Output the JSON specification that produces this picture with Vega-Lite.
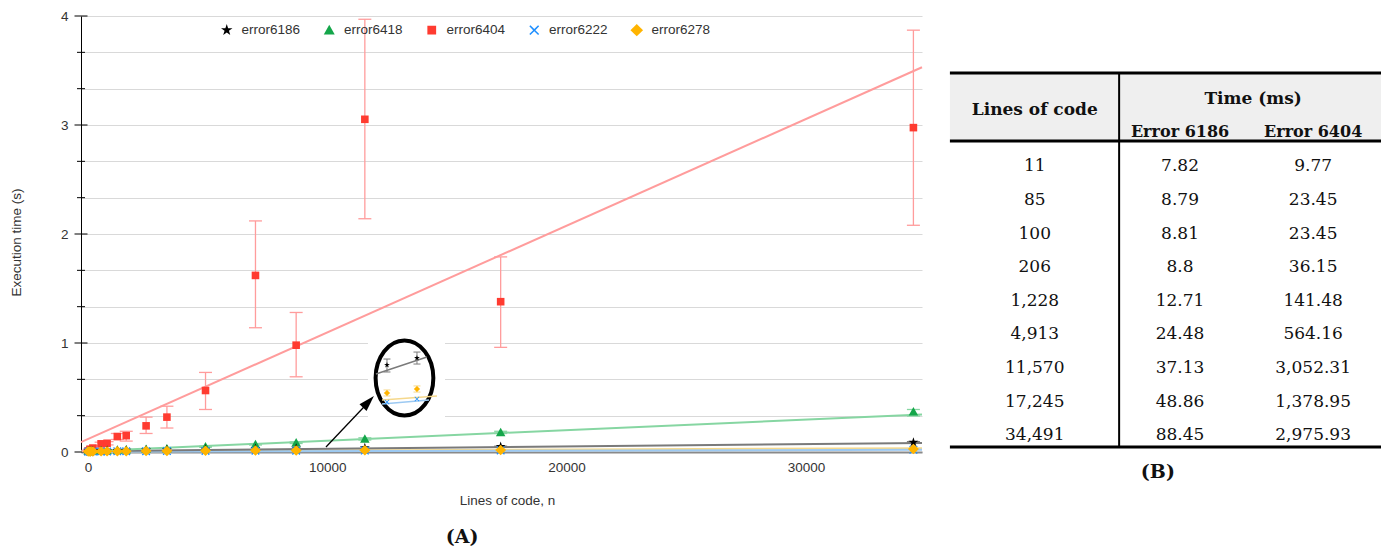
{
  "$schema": "https://vega.github.io/schema/vega-lite/v6.json",
  "padding": {"left": 9, "top": 9, "right": 0, "bottom": 0},
  "spacing": 20,
  "config": {"view": {"stroke": null}, "font": "Liberation Sans"},
  "datasets": {
    "main": [
      {"s": "error6404", "n": 11, "t": 0.0098, "lo": 0.004, "hi": 0.016},
      {"s": "error6404", "n": 85, "t": 0.0235, "lo": 0.015, "hi": 0.032},
      {"s": "error6404", "n": 100, "t": 0.0235, "lo": 0.015, "hi": 0.032},
      {"s": "error6404", "n": 206, "t": 0.0362, "lo": 0.026, "hi": 0.047},
      {"s": "error6404", "n": 550, "t": 0.075, "lo": 0.06, "hi": 0.09},
      {"s": "error6404", "n": 800, "t": 0.08, "lo": 0.065, "hi": 0.095},
      {"s": "error6404", "n": 1228, "t": 0.1415, "lo": 0.115, "hi": 0.17},
      {"s": "error6404", "n": 1600, "t": 0.15, "lo": 0.1, "hi": 0.19},
      {"s": "error6404", "n": 2430, "t": 0.24, "lo": 0.17, "hi": 0.32},
      {"s": "error6404", "n": 3300, "t": 0.32, "lo": 0.22, "hi": 0.42},
      {"s": "error6404", "n": 4913, "t": 0.5642, "lo": 0.39, "hi": 0.73},
      {"s": "error6404", "n": 7000, "t": 1.62, "lo": 1.14, "hi": 2.12},
      {"s": "error6404", "n": 8700, "t": 0.98, "lo": 0.69, "hi": 1.28},
      {"s": "error6404", "n": 11570, "t": 3.0523, "lo": 2.14, "hi": 3.97},
      {"s": "error6404", "n": 17245, "t": 1.379, "lo": 0.96, "hi": 1.79},
      {"s": "error6404", "n": 34491, "t": 2.9759, "lo": 2.08, "hi": 3.87},
      {"s": "error6418", "n": 11, "t": 0.008},
      {"s": "error6418", "n": 85, "t": 0.009},
      {"s": "error6418", "n": 100, "t": 0.009},
      {"s": "error6418", "n": 206, "t": 0.01},
      {"s": "error6418", "n": 550, "t": 0.012},
      {"s": "error6418", "n": 800, "t": 0.014},
      {"s": "error6418", "n": 1228, "t": 0.018},
      {"s": "error6418", "n": 1600, "t": 0.02},
      {"s": "error6418", "n": 2430, "t": 0.025},
      {"s": "error6418", "n": 3300, "t": 0.03},
      {"s": "error6418", "n": 4913, "t": 0.048, "lo": 0.044, "hi": 0.052},
      {"s": "error6418", "n": 7000, "t": 0.07, "lo": 0.064, "hi": 0.076},
      {"s": "error6418", "n": 8700, "t": 0.085, "lo": 0.078, "hi": 0.092},
      {"s": "error6418", "n": 11570, "t": 0.12, "lo": 0.11, "hi": 0.13},
      {"s": "error6418", "n": 17245, "t": 0.18, "lo": 0.17, "hi": 0.19},
      {"s": "error6418", "n": 34491, "t": 0.37, "lo": 0.33, "hi": 0.39},
      {"s": "error6186", "n": 11, "t": 0.0078},
      {"s": "error6186", "n": 85, "t": 0.0088},
      {"s": "error6186", "n": 100, "t": 0.0088},
      {"s": "error6186", "n": 206, "t": 0.0088},
      {"s": "error6186", "n": 550, "t": 0.01},
      {"s": "error6186", "n": 800, "t": 0.011},
      {"s": "error6186", "n": 1228, "t": 0.0127},
      {"s": "error6186", "n": 1600, "t": 0.014},
      {"s": "error6186", "n": 2430, "t": 0.017},
      {"s": "error6186", "n": 3300, "t": 0.02},
      {"s": "error6186", "n": 4913, "t": 0.0245},
      {"s": "error6186", "n": 7000, "t": 0.029},
      {"s": "error6186", "n": 8700, "t": 0.033},
      {"s": "error6186", "n": 11570, "t": 0.0371},
      {"s": "error6186", "n": 17245, "t": 0.0489, "lo": 0.045, "hi": 0.053},
      {"s": "error6186", "n": 34491, "t": 0.0885, "lo": 0.082, "hi": 0.095},
      {"s": "error6222", "n": 11, "t": 0.003},
      {"s": "error6222", "n": 85, "t": 0.0035},
      {"s": "error6222", "n": 100, "t": 0.0035},
      {"s": "error6222", "n": 206, "t": 0.004},
      {"s": "error6222", "n": 550, "t": 0.0045},
      {"s": "error6222", "n": 800, "t": 0.005},
      {"s": "error6222", "n": 1228, "t": 0.006},
      {"s": "error6222", "n": 1600, "t": 0.0065},
      {"s": "error6222", "n": 2430, "t": 0.0075},
      {"s": "error6222", "n": 3300, "t": 0.0085},
      {"s": "error6222", "n": 4913, "t": 0.01},
      {"s": "error6222", "n": 7000, "t": 0.011},
      {"s": "error6222", "n": 8700, "t": 0.012},
      {"s": "error6222", "n": 11570, "t": 0.013},
      {"s": "error6222", "n": 17245, "t": 0.015},
      {"s": "error6222", "n": 34491, "t": 0.02},
      {"s": "error6278", "n": 11, "t": 0.004},
      {"s": "error6278", "n": 85, "t": 0.0045},
      {"s": "error6278", "n": 100, "t": 0.0045},
      {"s": "error6278", "n": 206, "t": 0.005},
      {"s": "error6278", "n": 550, "t": 0.0055},
      {"s": "error6278", "n": 800, "t": 0.006},
      {"s": "error6278", "n": 1228, "t": 0.007},
      {"s": "error6278", "n": 1600, "t": 0.0075},
      {"s": "error6278", "n": 2430, "t": 0.0085},
      {"s": "error6278", "n": 3300, "t": 0.0095},
      {"s": "error6278", "n": 4913, "t": 0.0115},
      {"s": "error6278", "n": 7000, "t": 0.013},
      {"s": "error6278", "n": 8700, "t": 0.014},
      {"s": "error6278", "n": 11570, "t": 0.016},
      {"s": "error6278", "n": 17245, "t": 0.019},
      {"s": "error6278", "n": 34491, "t": 0.028}
    ],
    "trend": [
      {"s": "error6278", "n": -290, "t": 0.004},
      {"s": "error6278", "n": 34850, "t": 0.035},
      {"s": "error6222", "n": -290, "t": 0.003},
      {"s": "error6222", "n": 34850, "t": 0.02},
      {"s": "error6186", "n": -290, "t": 0.006},
      {"s": "error6186", "n": 34850, "t": 0.083},
      {"s": "error6418", "n": -290, "t": 0.004},
      {"s": "error6418", "n": 34850, "t": 0.345},
      {"s": "error6404", "n": -290, "t": 0.09},
      {"s": "error6404", "n": 34850, "t": 3.53}
    ],
    "yticks": [
      {"v": 0, "major": true}, {"v": 0.33333, "major": false}, {"v": 0.66667, "major": false},
      {"v": 1, "major": true}, {"v": 1.33333, "major": false}, {"v": 1.66667, "major": false},
      {"v": 2, "major": true}, {"v": 2.33333, "major": false}, {"v": 2.66667, "major": false},
      {"v": 3, "major": true}, {"v": 3.33333, "major": false}, {"v": 3.66667, "major": false},
      {"v": 4, "major": true}
    ],
    "insetLines": [
      {"s": "error6186", "n": 12035, "t": 0.716},
      {"s": "error6186", "n": 14166, "t": 0.872},
      {"s": "error6278", "n": 12286, "t": 0.477},
      {"s": "error6278", "n": 14584, "t": 0.514},
      {"s": "error6222", "n": 12286, "t": 0.44},
      {"s": "error6222", "n": 14250, "t": 0.477}
    ],
    "insetPts": [
      {"s": "error6222", "n": 12495, "t": 0.459},
      {"s": "error6222", "n": 13748, "t": 0.486},
      {"s": "error6186", "n": 12495, "t": 0.798, "lo": 0.734, "hi": 0.853},
      {"s": "error6186", "n": 13748, "t": 0.862, "lo": 0.807, "hi": 0.917},
      {"s": "error6278", "n": 12495, "t": 0.541, "lo": 0.514, "hi": 0.569},
      {"s": "error6278", "n": 13748, "t": 0.578, "lo": 0.55, "hi": 0.606}
    ],
    "table": [
      {"row": 0, "loc": "11", "a": "7.82", "b": "9.77"},
      {"row": 1, "loc": "85", "a": "8.79", "b": "23.45"},
      {"row": 2, "loc": "100", "a": "8.81", "b": "23.45"},
      {"row": 3, "loc": "206", "a": "8.8", "b": "36.15"},
      {"row": 4, "loc": "1,228", "a": "12.71", "b": "141.48"},
      {"row": 5, "loc": "4,913", "a": "24.48", "b": "564.16"},
      {"row": 6, "loc": "11,570", "a": "37.13", "b": "3,052.31"},
      {"row": 7, "loc": "17,245", "a": "48.86", "b": "1,378.95"},
      {"row": 8, "loc": "34,491", "a": "88.45", "b": "2,975.93"}
    ]
  },
  "hconcat": [
    {
      "width": 841,
      "height": 436,
      "resolve": {"axis": {"x": "independent", "y": "independent"}, "legend": {"color": "independent", "shape": "independent", "stroke": "independent"}},
      "layer": [
        {
          "data": {"name": "trend"},
          "mark": {"type": "line", "strokeWidth": 2},
          "encoding": {
            "x": {"field": "n", "type": "quantitative",
              "scale": {"domain": [-290, 34850], "nice": false, "zero": false},
              "axis": {"values": [0, 10000, 20000, 30000], "format": "d", "ticks": false, "grid": false,
                "domainColor": "#8a8a8a", "domainWidth": 2, "labelFontSize": 13.5, "labelColor": "#333",
                "labelPadding": 8, "labelFlush": false, "title": "Lines of code, n", "titleFontSize": 13.5,
                "titleFontWeight": "normal", "titleColor": "#333", "titleX": 426, "titleY": 48, "titleBaseline": "middle"}},
            "y": {"field": "t", "type": "quantitative",
              "scale": {"domain": [0, 4], "nice": false, "zero": false},
              "axis": {"orient": "left",
                "values": [0, 0.33333, 0.66667, 1, 1.33333, 1.66667, 2, 2.33333, 2.66667, 3, 3.33333, 3.66667, 4],
                "labelExpr": "abs(datum.value - round(datum.value)) < 0.01 ? format(datum.value, 'd') : ''",
                "ticks": false, "domainColor": "#000", "domainWidth": 1, "grid": true, "gridColor": "#d9d9d9",
                "gridWidth": 1, "labelFontSize": 13.5, "labelColor": "#333", "labelPadding": 13, "labelFlush": false,
                "title": "Execution time (s)", "titleFontSize": 13.5, "titleFontWeight": "normal", "titleColor": "#333",
                "titleX": -65, "titleY": 226, "titleBaseline": "middle", "titleAlign": "center", "titleAngle": -90}},
            "stroke": {"field": "s", "type": "nominal",
              "scale": {"domain": ["error6186", "error6418", "error6404", "error6222", "error6278"],
                "range": ["#7a7a7a", "#86d6a2", "#ff9c9c", "#9cc9f2", "#f5d88c"]},
              "legend": null}
          }
        },
        {
          "data": {"name": "yticks"},
          "transform": [{"filter": "datum.major"}],
          "mark": {"type": "tick", "orient": "horizontal", "size": 13, "thickness": 1, "color": "#000", "opacity": 1},
          "encoding": {
            "x": {"datum": -290, "type": "quantitative", "axis": null},
            "y": {"field": "v", "type": "quantitative", "axis": null}
          }
        },
        {
          "data": {"name": "yticks"},
          "transform": [{"filter": "!datum.major"}],
          "mark": {"type": "tick", "orient": "horizontal", "size": 8, "thickness": 1, "color": "#000", "opacity": 1},
          "encoding": {
            "x": {"datum": -290, "type": "quantitative", "axis": null},
            "y": {"field": "v", "type": "quantitative", "axis": null}
          }
        },
        {
          "data": {"name": "main"},
          "transform": [{"filter": "isValid(datum.lo)"}],
          "mark": {"type": "rule", "strokeWidth": 1.3},
          "encoding": {
            "x": {"field": "n", "type": "quantitative", "axis": null},
            "y": {"field": "lo", "type": "quantitative", "axis": null},
            "y2": {"field": "hi"},
            "stroke": {"field": "s", "type": "nominal", "legend": null}
          }
        },
        {
          "data": {"name": "main"},
          "transform": [{"filter": "isValid(datum.lo)"}],
          "mark": {"type": "point", "shape": "stroke", "size": 169, "strokeWidth": 1.3, "opacity": 1, "filled": false},
          "encoding": {
            "x": {"field": "n", "type": "quantitative", "axis": null},
            "y": {"field": "lo", "type": "quantitative", "axis": null},
            "stroke": {"field": "s", "type": "nominal", "legend": null}
          }
        },
        {
          "data": {"name": "main"},
          "transform": [{"filter": "isValid(datum.hi)"}],
          "mark": {"type": "point", "shape": "stroke", "size": 169, "strokeWidth": 1.3, "opacity": 1, "filled": false},
          "encoding": {
            "x": {"field": "n", "type": "quantitative", "axis": null},
            "y": {"field": "hi", "type": "quantitative", "axis": null},
            "stroke": {"field": "s", "type": "nominal", "legend": null}
          }
        },
        {
          "data": {"values": [{}]},
          "mark": {"type": "rect", "fill": "white"},
          "encoding": {
            "x": {"datum": 11700, "type": "quantitative", "axis": null},
            "x2": {"datum": 14920},
            "y": {"datum": 0.3, "type": "quantitative", "axis": null},
            "y2": {"datum": 1.07}
          }
        },
        {
          "data": {"values": [{}]},
          "mark": {"type": "point", "filled": true, "fill": "white", "stroke": "black", "strokeWidth": 4, "opacity": 1,
            "size": 5625,
            "shape": "M0,-1C0.4253,-1,0.77,-0.5523,0.77,0C0.77,0.5523,0.4253,1,0,1C-0.4253,1,-0.77,0.5523,-0.77,0C-0.77,-0.5523,-0.4253,-1,0,-1Z"},
          "encoding": {
            "x": {"datum": 13226, "type": "quantitative", "axis": null},
            "y": {"datum": 0.679, "type": "quantitative", "axis": null}
          }
        },
        {
          "data": {"name": "insetLines"},
          "mark": {"type": "line", "strokeWidth": 1.5},
          "encoding": {
            "x": {"field": "n", "type": "quantitative", "axis": null},
            "y": {"field": "t", "type": "quantitative", "axis": null},
            "stroke": {"field": "s", "type": "nominal", "legend": null}
          }
        },
        {
          "data": {"name": "insetPts"},
          "transform": [{"filter": "isValid(datum.lo)"}],
          "mark": {"type": "rule", "strokeWidth": 1},
          "encoding": {
            "x": {"field": "n", "type": "quantitative", "axis": null},
            "y": {"field": "lo", "type": "quantitative", "axis": null},
            "y2": {"field": "hi"},
            "stroke": {"field": "s", "type": "nominal", "legend": null}
          }
        },
        {
          "data": {"name": "insetPts"},
          "transform": [{"filter": "isValid(datum.lo)"}],
          "mark": {"type": "point", "shape": "stroke", "size": 49, "strokeWidth": 1, "opacity": 1, "filled": false},
          "encoding": {
            "x": {"field": "n", "type": "quantitative", "axis": null},
            "y": {"field": "lo", "type": "quantitative", "axis": null},
            "stroke": {"field": "s", "type": "nominal", "legend": null}
          }
        },
        {
          "data": {"name": "insetPts"},
          "transform": [{"filter": "isValid(datum.hi)"}],
          "mark": {"type": "point", "shape": "stroke", "size": 49, "strokeWidth": 1, "opacity": 1, "filled": false},
          "encoding": {
            "x": {"field": "n", "type": "quantitative", "axis": null},
            "y": {"field": "hi", "type": "quantitative", "axis": null},
            "stroke": {"field": "s", "type": "nominal", "legend": null}
          }
        },
        {
          "data": {"values": [{}]},
          "mark": {"type": "rule", "color": "black", "strokeWidth": 1.3},
          "encoding": {
            "x": {"datum": 9946, "type": "quantitative", "axis": null},
            "y": {"datum": 0.046, "type": "quantitative", "axis": null},
            "x2": {"datum": 11560},
            "y2": {"datum": 0.42}
          }
        },
        {
          "data": {"values": [{}]},
          "mark": {"type": "point", "filled": true, "color": "black", "opacity": 1, "size": 256, "angle": 43,
            "shape": "M0,-1L0.6,1L-0.6,1Z"},
          "encoding": {
            "x": {"datum": 11722, "type": "quantitative", "axis": null},
            "y": {"datum": 0.461, "type": "quantitative", "axis": null}
          }
        },
        {
          "data": {"name": "insetPts"},
          "mark": {"type": "point", "filled": true, "size": 30, "opacity": 1, "strokeWidth": 0},
          "encoding": {
            "x": {"field": "n", "type": "quantitative", "axis": null},
            "y": {"field": "t", "type": "quantitative", "axis": null},
            "color": {"field": "s", "type": "nominal", "legend": null},
            "shape": {"field": "s", "type": "nominal", "legend": null}
          }
        },
        {
          "data": {"name": "main"},
          "mark": {"type": "point", "filled": true, "size": 90, "opacity": 1, "strokeWidth": 0},
          "encoding": {
            "x": {"field": "n", "type": "quantitative", "axis": null},
            "y": {"field": "t", "type": "quantitative", "axis": null},
            "color": {"field": "s", "type": "nominal",
              "scale": {"domain": ["error6186", "error6418", "error6404", "error6222", "error6278"],
                "range": ["#000000", "#14a64a", "#ff3b30", "#1e8fff", "#ffb400"]},
              "legend": {"orient": "none", "legendX": 139, "legendY": 7, "direction": "horizontal", "columns": 5,
                "title": null, "symbolSize": 120, "labelFontSize": 13.5, "labelColor": "#333", "labelFont": "Liberation Sans",
                "columnPadding": 21.5, "labelOffset": 8, "symbolStrokeWidth": 0}},
            "shape": {"field": "s", "type": "nominal",
              "scale": {"domain": ["error6186", "error6418", "error6404", "error6222", "error6278"],
                "range": [
                  "M0,-1.1L0.247,-0.34L1.046,-0.34L0.4,0.13L0.647,0.89L0,0.42L-0.647,0.89L-0.4,0.13L-1.046,-0.34L-0.247,-0.34Z",
                  "M0,-1L1,0.8L-1,0.8Z",
                  "M-0.8,-0.8L0.8,-0.8L0.8,0.8L-0.8,0.8Z",
                  "M-0.9,-0.7L-0.7,-0.9L0,-0.2L0.7,-0.9L0.9,-0.7L0.2,0L0.9,0.7L0.7,0.9L0,0.2L-0.7,0.9L-0.9,0.7L-0.2,0Z",
                  "M0,-1.1L1.15,0L0,1.1L-1.15,0Z"]},
              "legend": {"orient": "none", "legendX": 139, "legendY": 7, "direction": "horizontal", "columns": 5,
                "title": null, "symbolSize": 120, "labelFontSize": 13.5, "labelColor": "#333", "labelFont": "Liberation Sans",
                "columnPadding": 21.5, "labelOffset": 8, "symbolStrokeWidth": 0}}
          }
        },
        {
          "data": {"values": [{}]},
          "mark": {"type": "text", "text": "(A)", "font": "DejaVu Serif", "fontWeight": "bold", "fontSize": 19, "baseline": "middle", "align": "center", "color": "#111"},
          "encoding": {
            "x": {"datum": 15630, "type": "quantitative", "axis": null},
            "y": {"datum": -0.78, "type": "quantitative", "axis": null}
          }
        }
      ]
    },
    {
      "width": 435,
      "height": 436,
      "layer": [
        {
          "data": {"values": [{}]},
          "mark": {"type": "rect", "fill": "#efefef"},
          "encoding": {
            "x": {"datum": 0.009, "type": "quantitative", "scale": {"domain": [0, 1], "nice": false, "zero": false}, "axis": null},
            "x2": {"datum": 1},
            "y": {"datum": -2.78, "type": "quantitative", "scale": {"domain": [-4.48, 8.5], "nice": false, "zero": false, "reverse": true}, "axis": null},
            "y2": {"datum": -0.76}
          }
        },
        {
          "data": {"values": [{}]},
          "mark": {"type": "rule", "strokeWidth": 3, "color": "#000"},
          "encoding": {
            "x": {"datum": 0.009, "type": "quantitative", "axis": null},
            "x2": {"datum": 1},
            "y": {"datum": -2.78, "type": "quantitative", "axis": null}
          }
        },
        {
          "data": {"values": [{}]},
          "mark": {"type": "rule", "strokeWidth": 3, "color": "#000"},
          "encoding": {
            "x": {"datum": 0.009, "type": "quantitative", "axis": null},
            "x2": {"datum": 1},
            "y": {"datum": -0.76, "type": "quantitative", "axis": null}
          }
        },
        {
          "data": {"values": [{}]},
          "mark": {"type": "rule", "strokeWidth": 3, "color": "#000"},
          "encoding": {
            "x": {"datum": 0.009, "type": "quantitative", "axis": null},
            "x2": {"datum": 1},
            "y": {"datum": 8.35, "type": "quantitative", "axis": null}
          }
        },
        {
          "data": {"values": [{}]},
          "mark": {"type": "rule", "strokeWidth": 2, "color": "#000"},
          "encoding": {
            "x": {"datum": 0.398, "type": "quantitative", "axis": null},
            "y": {"datum": -2.78, "type": "quantitative", "axis": null},
            "y2": {"datum": 8.35}
          }
        },
        {
          "data": {"values": [{}]},
          "mark": {"type": "text", "text": "Lines of code", "font": "DejaVu Serif", "fontWeight": "bold", "fontSize": 17, "baseline": "middle", "align": "center", "color": "#111"},
          "encoding": {
            "x": {"datum": 0.204, "type": "quantitative", "axis": null},
            "y": {"datum": -1.68, "type": "quantitative", "axis": null}
          }
        },
        {
          "data": {"values": [{}]},
          "mark": {"type": "text", "text": "Time (ms)", "font": "DejaVu Serif", "fontWeight": "bold", "fontSize": 17, "baseline": "middle", "align": "center", "color": "#111"},
          "encoding": {
            "x": {"datum": 0.706, "type": "quantitative", "axis": null},
            "y": {"datum": -2.01, "type": "quantitative", "axis": null}
          }
        },
        {
          "data": {"values": [{}]},
          "mark": {"type": "text", "text": "Error 6186", "font": "DejaVu Serif", "fontWeight": "bold", "fontSize": 16, "baseline": "middle", "align": "center", "color": "#111"},
          "encoding": {
            "x": {"datum": 0.538, "type": "quantitative", "axis": null},
            "y": {"datum": -1.03, "type": "quantitative", "axis": null}
          }
        },
        {
          "data": {"values": [{}]},
          "mark": {"type": "text", "text": "Error 6404", "font": "DejaVu Serif", "fontWeight": "bold", "fontSize": 16, "baseline": "middle", "align": "center", "color": "#111"},
          "encoding": {
            "x": {"datum": 0.844, "type": "quantitative", "axis": null},
            "y": {"datum": -1.03, "type": "quantitative", "axis": null}
          }
        },
        {
          "data": {"name": "table"},
          "mark": {"type": "text", "font": "DejaVu Serif", "fontSize": 17, "baseline": "middle", "align": "center", "color": "#111"},
          "encoding": {
            "x": {"datum": 0.204, "type": "quantitative", "axis": null},
            "y": {"field": "row", "type": "quantitative", "axis": null},
            "text": {"field": "loc"}
          }
        },
        {
          "data": {"name": "table"},
          "mark": {"type": "text", "font": "DejaVu Serif", "fontSize": 17, "baseline": "middle", "align": "center", "color": "#111"},
          "encoding": {
            "x": {"datum": 0.538, "type": "quantitative", "axis": null},
            "y": {"field": "row", "type": "quantitative", "axis": null},
            "text": {"field": "a"}
          }
        },
        {
          "data": {"name": "table"},
          "mark": {"type": "text", "font": "DejaVu Serif", "fontSize": 17, "baseline": "middle", "align": "center", "color": "#111"},
          "encoding": {
            "x": {"datum": 0.844, "type": "quantitative", "axis": null},
            "y": {"field": "row", "type": "quantitative", "axis": null},
            "text": {"field": "b"}
          }
        },
        {
          "data": {"values": [{}]},
          "mark": {"type": "text", "text": "(B)", "font": "DejaVu Serif", "fontWeight": "bold", "fontSize": 19, "baseline": "middle", "align": "center", "color": "#111"},
          "encoding": {
            "x": {"datum": 0.487, "type": "quantitative", "axis": null},
            "y": {"datum": 9.09, "type": "quantitative", "axis": null}
          }
        }
      ]
    }
  ]
}
